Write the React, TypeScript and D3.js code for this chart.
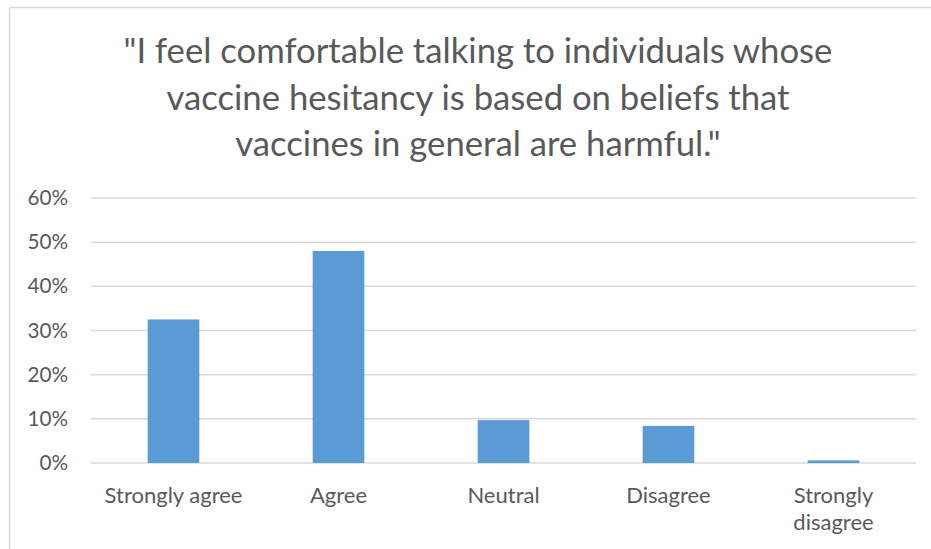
import React, { useEffect, useRef } from 'react';
import * as d3 from 'd3';

const titleLines = [
  '"I feel comfortable talking to individuals whose',
  'vaccine hesitancy is based on beliefs that',
  'vaccines in general are harmful."',
];
const categories = ['Strongly agree', 'Agree', 'Neutral', 'Disagree', 'Strongly disagree'];
const values = [0.325, 0.48, 0.097, 0.084, 0.006];
const yTicks = [0, 0.1, 0.2, 0.3, 0.4, 0.5, 0.6];

const W = 931;
const H = 549;
const FONT = 'Lato, sans-serif';

export default function App() {
  const svgRef = useRef<SVGSVGElement>(null);

  useEffect(() => {
    if (!svgRef.current) return;
    const root = d3.select(svgRef.current);
    root.selectAll('*').remove();

    root.append('rect')
      .attr('width', W).attr('height', H).attr('fill', '#fff');

    // chart frame, cut off at right and bottom
    root.append('rect')
      .attr('x', 9.5).attr('y', 7.5)
      .attr('width', W + 20).attr('height', H + 20)
      .attr('fill', 'none').attr('stroke', '#d9d9d9').attr('stroke-width', 1.5);

    // Title
    root.append('g')
      .selectAll('text')
      .data(titleLines)
      .enter()
      .append('text')
      .attr('x', 478)
      .attr('y', (d, i) => 63 + i * 46.5)
      .attr('text-anchor', 'middle')
      .attr('font-family', FONT)
      .attr('font-size', 34.7)
      .attr('fill', '#595959')
      .text(d => d);

    const left = 91;
    const right = 916;
    const top = 198;
    const bottom = 463;

    const x = d3.scaleBand<string>()
      .domain(categories)
      .range([left, right])
      .paddingInner(0.687)
      .paddingOuter(0.3435);

    const y = d3.scaleLinear()
      .domain([0, 0.6])
      .range([bottom, top]);

    // gridlines
    root.append('g')
      .selectAll('line')
      .data(yTicks)
      .enter()
      .append('line')
      .attr('x1', left).attr('x2', right)
      .attr('y1', d => y(d)).attr('y2', d => y(d))
      .attr('stroke', '#d9d9d9').attr('stroke-width', 1.5);

    // y tick labels
    root.append('g')
      .selectAll('text')
      .data(yTicks)
      .enter()
      .append('text')
      .attr('x', 68)
      .attr('y', d => y(d) + 7)
      .attr('text-anchor', 'end')
      .attr('font-family', FONT)
      .attr('font-size', 20.7)
      .attr('fill', '#595959')
      .text(d => d3.format('.0%')(d));

    // bars
    root.append('g')
      .selectAll('rect')
      .data(values)
      .enter()
      .append('rect')
      .attr('x', (d, i) => x(categories[i]) as number)
      .attr('y', d => y(d))
      .attr('width', x.bandwidth())
      .attr('height', d => bottom - y(d))
      .attr('fill', '#5b9bd5');

    // category labels, last one wraps onto two lines
    const labels = root.append('g')
      .selectAll('text')
      .data(categories)
      .enter()
      .append('text')
      .attr('text-anchor', 'middle')
      .attr('font-family', FONT)
      .attr('font-size', 22)
      .attr('fill', '#595959');

    labels.each(function (d, i) {
      const cx = (x(d) as number) + x.bandwidth() / 2;
      const words = i === categories.length - 1 ? d.split(' ') : [d];
      d3.select(this)
        .selectAll('tspan')
        .data(words)
        .enter()
        .append('tspan')
        .attr('x', cx)
        .attr('y', (w, j) => 503 + j * 27)
        .text(w => w);
    });
  }, []);

  return (
    <svg
      ref={svgRef}
      width={W}
      height={H}
      style={{ position: 'absolute', left: 0, top: 0, display: 'block' }}
    />
  );
}
